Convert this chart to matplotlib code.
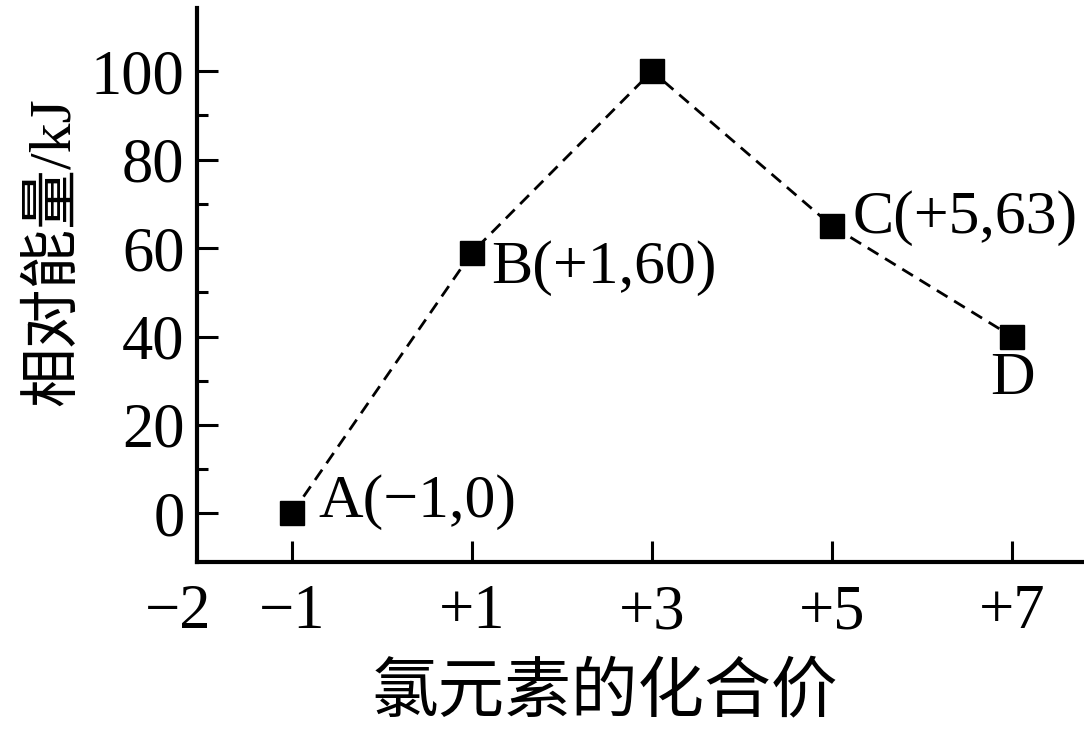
import matplotlib
matplotlib.use("Agg")
import matplotlib.pyplot as plt
import matplotlib.transforms as mtransforms

plt.rcParams['font.family'] = ['Liberation Serif', 'Noto Sans CJK SC', 'DejaVu Sans']

# data
valence = [-1, 1, 3, 5, 7]
energy = [0, 59, 100, 65, 40]
point_labels = ['A(−1,0)', 'B(+1,60)', '', 'C(+5,63)', 'D']
xtick_vals = [-2, -1, 1, 3, 5, 7]
xtick_text = ['−2', '−1', '+1', '+3', '+5', '+7']
ytick_vals = [0, 20, 40, 60, 80, 100]

fig = plt.figure(figsize=(10.84, 7.42), dpi=100)
ax = fig.add_axes([0.1817, 0.2426, 0.8183, 0.7466])

ax.plot(valence, energy, color='black', lw=2.0, linestyle=(0, (4.5, 2.8)),
        marker='s', markersize=17, markerfacecolor='black', markeredgecolor='black')

# label offsets (points) for each point
offsets = [(19, 8), (14, -11), (0, 0), (15, 6), (0, -31)]
for x, y, t, off in zip(valence, energy, point_labels, offsets):
    if not t:
        continue
    ha = 'center' if t == 'D' else 'left'
    ax.annotate(t, (x, y), xytext=off, textcoords='offset points',
                ha=ha, va='center', fontsize=44.5, family='Liberation Serif')

ax.set_xlim(-2.056, 7.80)
ax.set_ylim(-11, 114.3)

ax.set_xticks(xtick_vals)
ax.set_xticklabels(xtick_text)
ax.set_yticks(ytick_vals)
ax.set_yticks([10, 30, 50, 70, 90], minor=True)

ax.tick_params(axis='both', which='major', direction='in', length=15, width=2.2,
               labelsize=45, pad=9)
ax.tick_params(axis='x', which='major', pad=16)
ax.tick_params(axis='y', which='minor', direction='in', length=8, width=2.2)
ax.tick_params(axis='x', which='minor', length=0)

# no tick mark at -2, and its label sits left of the spine
ax.xaxis.get_major_ticks()[0].tick1line.set_visible(False)
shift = mtransforms.ScaledTranslation(-24 / 100, 0, fig.dpi_scale_trans)
lbl = ax.get_xticklabels()[0]
lbl.set_transform(lbl.get_transform() + shift)

for side in ['top', 'right']:
    ax.spines[side].set_visible(False)
for side in ['left', 'bottom']:
    ax.spines[side].set_linewidth(3)

ax.set_ylabel('相对能量/kJ', fontsize=43, va='center')
ax.yaxis.set_label_coords(-0.16, 0.561)
ax.set_xlabel('氯元素的化合价', fontsize=48, va='center')
ax.xaxis.set_label_coords(0.46, -0.24)

fig.savefig('out.png', dpi=100)
